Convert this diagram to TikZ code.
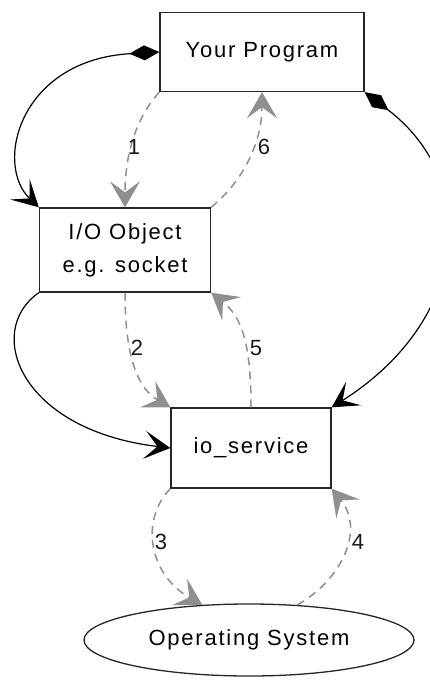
\documentclass[tikz,border=0pt]{standalone}
\usepackage{fontspec}
\setmainfont{Liberation Sans}[LetterSpace=8]
\usetikzlibrary{arrows.meta,shapes.geometric}

\definecolor{flowGray}{HTML}{8F8F8F}
\tikzstyle{nB}=[rectangle,draw=black!85,line width=1.3pt,inner sep=0pt,align=center,font=\fontsize{22}{33}\selectfont]
\tikzstyle{nE}=[ellipse,draw=black!85,line width=1.3pt,inner sep=0pt,font=\fontsize{22}{25}\selectfont]
\tikzstyle{eO}=[line width=1.2pt,draw=black,-{Stealth[length=26pt,width=28pt,inset=13pt]}]
\tikzstyle{eW}=[line width=1.2pt,draw=black,{Diamond[length=30pt,width=15pt]}-{Stealth[length=26pt,width=28pt,inset=13pt]}]
\tikzstyle{eD}=[line width=1.5pt,draw=flowGray,dash pattern=on 8pt off 6pt,-{Stealth[length=26pt,width=30pt,inset=11pt]}]
\tikzstyle{eL}=[inner sep=0pt,font=\fontsize{22}{25}\selectfont,text=black!90]

\begin{document}
\begin{tikzpicture}[x=1pt,y=-1pt]
    \useasboundingbox (0,0) rectangle (430,680);
    \draw (262,52) node[nB,minimum width=204pt,minimum height=79pt] (yp) {Your Program};
    \draw (125,250) node[nB,minimum width=171pt,minimum height=84pt] (obj) {I/O Object\\e.g. socket};
    \draw (251,448) node[nB,minimum width=160pt,minimum height=80pt] (svc) {io\_service};
    \draw (249,640) node[nE,minimum width=330pt,minimum height=72pt] (os) {Operating System};
    % ownership
    \draw[eW] (yp.west) .. controls +(-140,8) and +(-45,-43) .. (obj.north west);
    \draw[eW] (yp.south east) .. controls +(116,88) and +(139,-88) .. (svc.north east);
    \draw[eO] (obj.south west) .. controls +(-55,38) and +(-151,-18) .. (svc.west);
    % call sequence
    \draw[eD] (yp.south west) .. controls +(-30,33) and +(0,-38) .. (obj.north);
    \draw[eD] (obj.south) .. controls +(0,68) and +(-31,-18) .. (svc.north west);
    \draw[eD] (svc.south west) .. controls +(-31,32) and +(-53,-30) .. (os.143);
    \draw[eD] (os.36) .. controls +(43,-24) and +(34,42) .. (svc.south east);
    \draw[eD] (svc.north) .. controls +(0,-68) and +(29,23) .. (obj.south east);
    \draw[eD] (obj.north east) .. controls +(34,-28) and +(0,48) .. (yp.south);
    \draw (134,147) node[eL] (l1) {1};
    \draw (137,348) node[eL] (l2) {2};
    \draw (161,542) node[eL] (l3) {3};
    \draw (358,542) node[eL] (l4) {4};
    \draw (256,348) node[eL] (l5) {5};
    \draw (264,147) node[eL] (l6) {6};
\end{tikzpicture}
\end{document}
